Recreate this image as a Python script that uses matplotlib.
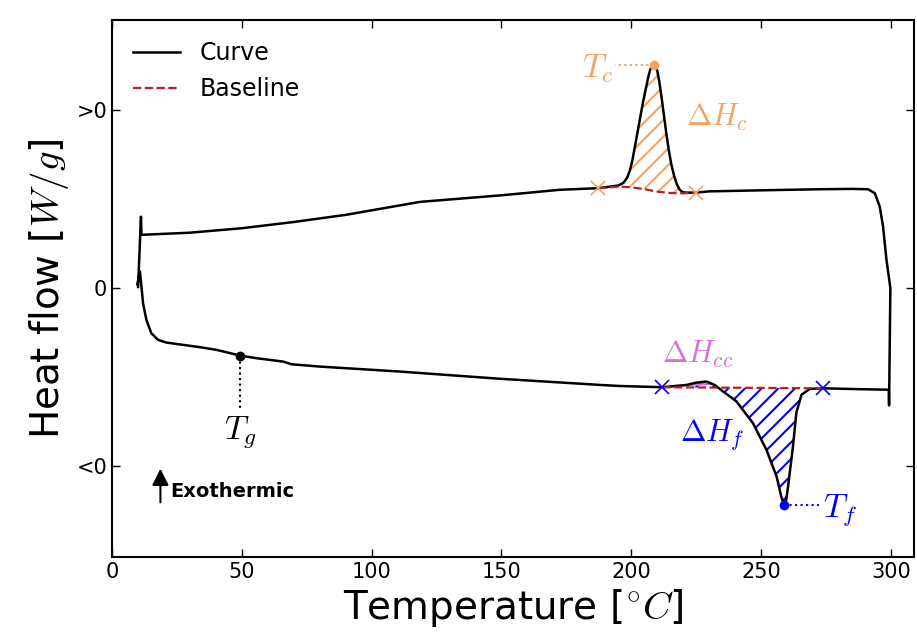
import matplotlib
matplotlib.use("Agg")
import matplotlib.pyplot as plt

plt.rcParams['mathtext.fontset'] = 'cm'
plt.rcParams['hatch.linewidth'] = 1.5

# heating run (lower curve)
heat_T = [9.8, 10.8, 11.4, 12.0, 13.3, 15.2, 17.8, 21.0, 27.4, 33.9, 40.3, 49.3,
          55.7, 66.0, 69.2, 80.1, 111.0, 149.0, 188.0, 195.6, 212.0, 221.3, 225.1,
          229.0, 232.1, 235.4, 240.5, 246.9, 252.1, 256.0, 257.8, 258.8, 259.7,
          260.4, 262.3, 263.6, 265.6, 268.8, 273.9, 288.0, 299.2, 299.3, 299.8]
heat_Q = [0.02, 0.092, 0.007, -0.086, -0.18, -0.255, -0.292, -0.307, -0.32, -0.333,
          -0.348, -0.38, -0.395, -0.414, -0.429, -0.442, -0.47, -0.51, -0.545, -0.551,
          -0.558, -0.545, -0.532, -0.526, -0.545, -0.582, -0.637, -0.76, -0.91, -1.06,
          -1.172, -1.219, -1.19, -1.116, -0.89, -0.70, -0.60, -0.567, -0.564, -0.569,
          -0.572, -0.66, -0.005]

# cooling run (upper curve), from 300 back down to 10
cool_T = [299.8, 298.3, 297.0, 295.7, 293.8, 291.2, 285.0, 272.6, 250.0, 230.0,
          224.9, 221.0, 219.5, 218.5, 217.5, 216.5, 215.5, 214.5, 213.5, 212.5,
          211.6, 210.8, 210.1, 209.4, 208.7, 208.0, 207.3, 206.5, 205.5, 204.5,
          203.5, 202.5, 201.5, 200.5, 199.5, 198.5, 197.0, 195.0, 190.0, 187.3,
          172.5, 150.0, 118.6, 90.0, 70.0, 50.0, 30.0, 11.4, 11.2, 10.1]
cool_Q = [0.0, 0.157, 0.344, 0.457, 0.532, 0.554, 0.556, 0.554, 0.548, 0.542,
          0.535, 0.535, 0.54, 0.555, 0.585, 0.63, 0.69, 0.77, 0.87, 0.98,
          1.08, 1.16, 1.215, 1.245, 1.253, 1.248, 1.225, 1.18, 1.11, 1.04,
          0.96, 0.88, 0.80, 0.72, 0.66, 0.62, 0.59, 0.575, 0.565, 0.56,
          0.551, 0.52, 0.483, 0.41, 0.37, 0.335, 0.31, 0.298, 0.40, 0.005]

# baselines
cryst_base_T = [187.3, 195.6, 200.0, 205.0, 209.7, 215.0, 220.0, 224.9]
cryst_base_Q = [0.56, 0.569, 0.565, 0.555, 0.541, 0.533, 0.531, 0.535]
melt_base_T = [212.0, 273.9]
melt_base_Q = [-0.558, -0.564]

# characteristic points
Tg = (49.3, -0.38)
Tc = (208.7, 1.253)
Tf = (258.8, -1.219)

orange = 'sandybrown'
pink = 'orchid'
blue = 'blue'
red = 'firebrick'

fig, ax = plt.subplots(figsize=(9.17, 6.37), dpi=100)
fig.subplots_adjust(left=0.122, right=0.997, bottom=0.126, top=0.969)

# crystallisation area (orange hatch)
i0, i1 = cool_T.index(224.9), cool_T.index(187.3)
poly_T = cool_T[i0:i1 + 1] + cryst_base_T
poly_Q = cool_Q[i0:i1 + 1] + cryst_base_Q
ax.fill(poly_T, poly_Q, facecolor='none', edgecolor=orange, hatch='//', lw=0)

# cold crystallisation (pink) and melting (blue hatch)
j0, j1, j2 = heat_T.index(212.0), heat_T.index(232.1), heat_T.index(273.9)
ax.fill(heat_T[j0:j1 + 1], heat_Q[j0:j1 + 1], color=pink, lw=0)
melt_T = heat_T[j1:j2 + 1] + melt_base_T[::-1]
melt_Q = heat_Q[j1:j2 + 1] + melt_base_Q[::-1]
ax.fill(melt_T, melt_Q, facecolor='none', edgecolor=blue, hatch='//', lw=0)

ax.plot(heat_T + cool_T, heat_Q + cool_Q, 'k-', lw=1.8, label='Curve')
ax.plot(cryst_base_T, cryst_base_Q, '--', color=red, lw=1.6, label='Baseline')
ax.plot(melt_base_T, melt_base_Q, '--', color=red, lw=1.6)

# integration limits
ax.plot([cryst_base_T[0], cryst_base_T[-1]], [cryst_base_Q[0], cryst_base_Q[-1]],
        'x', color=orange, ms=10, mew=1.2)
ax.plot(melt_base_T, melt_base_Q, 'x', color=blue, ms=10, mew=1.2)

# Tg
ax.plot(*Tg, 'o', color='k', ms=6)
ax.plot([Tg[0], Tg[0]], [Tg[1], -0.676], 'k:', lw=1.5)
ax.text(Tg[0], -0.81, '$T_g$', fontsize=24, ha='center', va='center')

# Tc
ax.plot(*Tc, 'o', color=orange, ms=6)
ax.plot([Tc[0], 193.6], [Tc[1], Tc[1]], ':', color=orange, lw=1.5)
ax.text(193.3, 1.23, '$T_c$', fontsize=24, ha='right', va='center', color=orange)
ax.text(221, 0.955, r'$\Delta H_c$', fontsize=22, ha='left', va='center', color=orange)

# Tf
ax.plot(*Tf, 'o', color=blue, ms=6)
ax.plot([Tf[0], 272.5], [Tf[1], Tf[1]], ':', color=blue, lw=1.5)
ax.text(273.7, -1.25, '$T_f$', fontsize=24, ha='left', va='center', color=blue)
ax.text(218.7, -0.826, r'$\Delta H_f$', fontsize=22, ha='left', va='center', color=blue)
ax.text(211.7, -0.376, r'$\Delta H_{cc}$', fontsize=22, ha='left', va='center', color=pink)

# exothermic arrow
ax.annotate('', xy=(18.7, -1.0), xytext=(18.7, -1.22),
            arrowprops=dict(arrowstyle='-|>', color='k', lw=1.5, mutation_scale=25))
ax.text(22.5, -1.144, 'Exothermic', fontsize=14, fontweight='bold', va='center')

ax.set_xlim(0, 309)
ax.set_ylim(-1.51, 1.506)
ax.set_yticks([-1, 0, 1])
ax.set_yticklabels(['<0', '0', '>0'])
ax.set_xticks([0, 50, 100, 150, 200, 250, 300])
ax.tick_params(direction='in', top=True, right=True, length=6, width=1, labelsize=15)
for s in ax.spines.values():
    s.set_linewidth(1.5)

ax.set_xlabel(r'Temperature [$^{\circ}C$]', fontsize=28)
ax.set_ylabel(r'Heat flow [$W/g$]', fontsize=28)
ax.legend(loc='upper left', frameon=False, fontsize=17)

fig.savefig('out.png', dpi=100)
